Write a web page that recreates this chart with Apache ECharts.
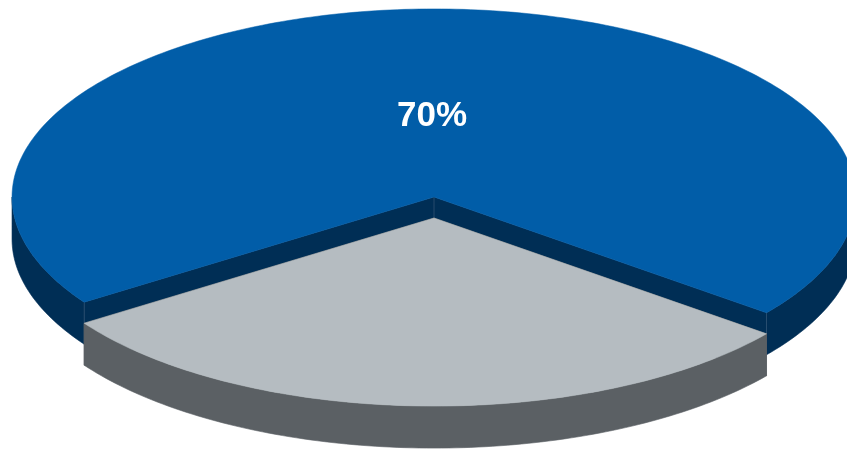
<!DOCTYPE html>
<html><head><meta charset="utf-8">
<script src="https://cdn.jsdelivr.net/npm/echarts@6/dist/echarts.min.js"></script>
<style>html,body{margin:0;padding:0;background:#fff}#c{width:847px;height:450px}</style>
</head><body><div id="c"></div>
<script>
// ---- data ----
const categories = ['Segment A', 'Segment B'];
const values = [70, 30];
const labels = ['70%', ''];
const exploded = [false, true];

// ---- style ----
const topColors = ['#015DA8', '#B5BCC1'];
const sideColors = ['#002E55', '#5B6064'];
const START = 146;      // degrees, clockwise from 3 o'clock (screen)
const DEPTH = 42;       // thickness of the disc
const EXPLODE = 21;     // downward offset of exploded slice

const chart = echarts.init(document.getElementById('c'), null, {renderer: 'canvas'});
const total = values.reduce((a, b) => a + b, 0);

function arcPts(cx, cy, rx, ry, a0, a1) {
  const pts = [];
  const n = Math.max(4, Math.ceil(Math.abs(a1 - a0)));
  for (let i = 0; i <= n; i++) {
    const t = (a0 + (a1 - a0) * i / n) * Math.PI / 180;
    pts.push([cx + rx * Math.cos(t), cy + ry * Math.sin(t)]);
  }
  return pts;
}

function renderItem(params, api) {
  const W = api.getWidth(), H = api.getHeight();
  const cx = W * 0.5124, cy = H * 0.4378, rx = W * 0.4982, ry = H * 0.418;
  const idx = params.dataIndex;
  let before = 0;
  for (let i = 0; i < idx; i++) before += values[i];
  const a0 = START + before / total * 360;
  const a1 = a0 + api.value(1) / total * 360;
  const y0 = cy + (exploded[idx] ? EXPLODE : 0);
  const children = [];
  const side = {fill: sideColors[idx], stroke: sideColors[idx], lineWidth: 0.6};
  // radial walls
  [a0, a1].forEach(a => {
    const t = a * Math.PI / 180;
    const px = cx + rx * Math.cos(t), py = y0 + ry * Math.sin(t);
    children.push({type: 'polygon',
      shape: {points: [[cx, y0], [px, py], [px, py + DEPTH], [cx, y0 + DEPTH]]},
      style: side});
  });
  // outer (front-facing) side: parts of arc with angle in [0,180] mod 360
  for (let base = -360; base <= 720; base += 360) {
    const s = Math.max(a0, base), e = Math.min(a1, base + 180);
    if (e > s) {
      const top = arcPts(cx, y0, rx, ry, s, e);
      const bot = top.map(p => [p[0], p[1] + DEPTH]).reverse();
      children.push({type: 'polygon', shape: {points: top.concat(bot)}, style: side});
    }
  }
  // vertical edge highlights
  if (!exploded[idx]) {
    [a0, a1].forEach(a => {
      const t = a * Math.PI / 180;
      const px = cx + rx * Math.cos(t), py = y0 + ry * Math.sin(t);
      children.push({type: 'line', shape: {x1: px, y1: py, x2: px, y2: py + DEPTH},
        style: {stroke: 'rgba(255,255,255,0.12)', lineWidth: 1}});
    });
    children.push({type: 'line', shape: {x1: cx, y1: y0, x2: cx, y2: y0 + DEPTH},
      style: {stroke: 'rgba(255,255,255,0.15)', lineWidth: 1}});
  }
  // top face
  children.push({
    type: 'polygon',
    shape: {points: [[cx, y0]].concat(arcPts(cx, y0, rx, ry, a0, a1))},
    style: {fill: topColors[idx], stroke: topColors[idx], lineWidth: 0.5}
  });
  // label
  if (labels[idx]) {
    const m = (a0 + a1) / 2 * Math.PI / 180;
    children.push({
      type: 'text',
      x: cx + rx * 0.44 * Math.cos(m) - 8.5,
      y: y0 + ry * 0.44 * Math.sin(m) + 2,
      style: {
        text: labels[idx], fill: '#ffffff',
        font: 'bold 35px "Liberation Sans", Arial, sans-serif',
        align: 'center', verticalAlign: 'middle'
      }
    });
  }
  return {type: 'group', children};
}

chart.setOption({
  backgroundColor: '#ffffff',
  animation: false,
  series: [{
    type: 'custom',
    coordinateSystem: 'none',
    renderItem: renderItem,
    data: categories.map((c, i) => ({name: c, value: [i, values[i]]}))
  }]
});
</script>
</body></html>
